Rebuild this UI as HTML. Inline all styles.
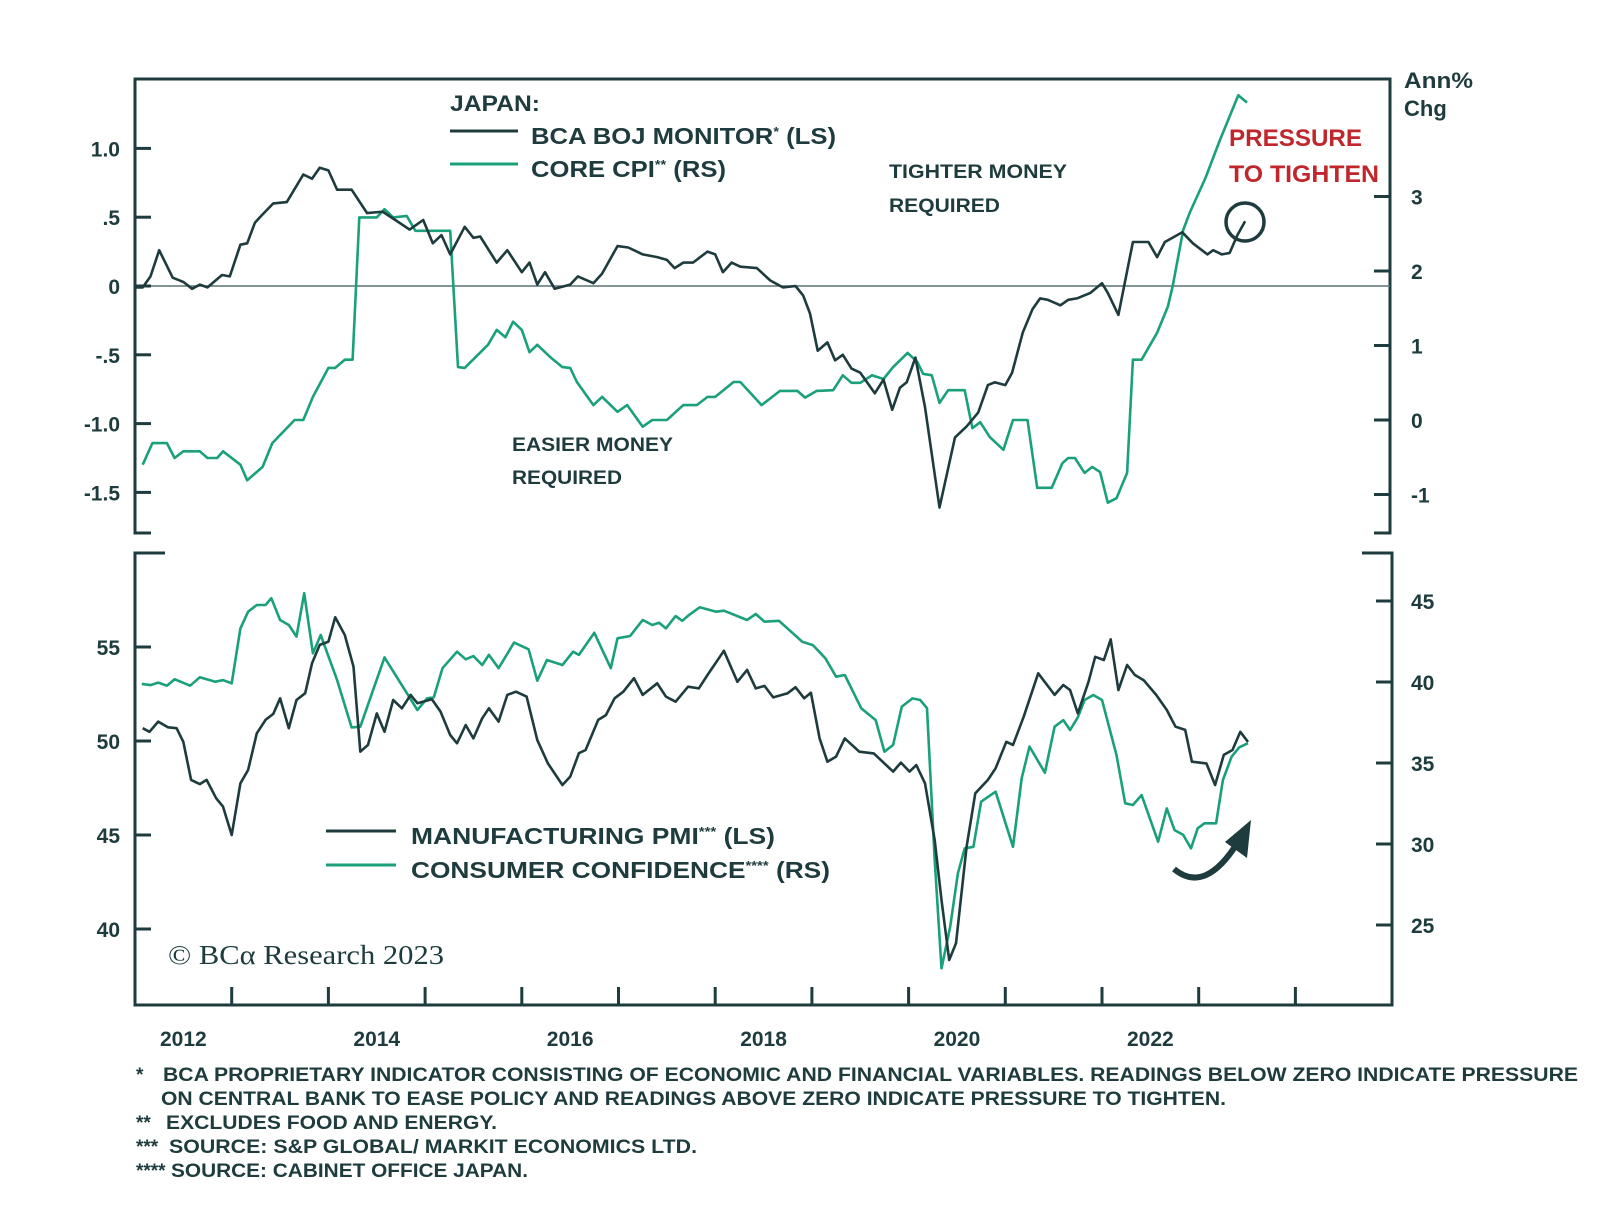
<!DOCTYPE html>
<html><head><meta charset="utf-8"><style>
html,body{margin:0;padding:0;background:#fff;}
svg{display:block;font-family:"Liberation Sans",sans-serif;}
.t{fill:#1e3b3d;font-weight:bold;}
</style></head><body>
<svg id="chart" width="1600" height="1223" viewBox="0 0 1600 1223" xmlns="http://www.w3.org/2000/svg">
<g id="frames" stroke="#1e3b3d" stroke-width="3" fill="none">
  <path d="M151,533 H135 V79 H1390 V533 H1374"/>
  <path d="M165,553 H135 V1005 H1392 V553 H1362"/>
</g>
<line x1="135" x2="1390" y1="286" y2="286" stroke="#5b7274" stroke-width="1.6"/>
<g id="ticks"></g>
<g id="series"></g>
<g>
  <text class="t" x="450" y="111" font-size="22" textLength="90" lengthAdjust="spacingAndGlyphs">JAPAN:</text>
  <line x1="450" x2="518" y1="131" y2="131" stroke="#1e3b3d" stroke-width="3"/>
  <text class="t" x="531" y="144" font-size="23" textLength="305" lengthAdjust="spacingAndGlyphs">BCA BOJ MONITOR<tspan font-size="13" dy="-8">*</tspan><tspan dy="8"> (LS)</tspan></text>
  <line x1="450" x2="518" y1="164" y2="164" stroke="#1aa07a" stroke-width="3"/>
  <text class="t" x="531" y="177" font-size="23" textLength="195" lengthAdjust="spacingAndGlyphs">CORE CPI<tspan font-size="13" dy="-8">**</tspan><tspan dy="8"> (RS)</tspan></text>
</g>
<text class="t" x="889" y="178" font-size="19" textLength="178" lengthAdjust="spacingAndGlyphs">TIGHTER MONEY</text>
<text class="t" x="889" y="212" font-size="19" textLength="111" lengthAdjust="spacingAndGlyphs">REQUIRED</text>
<text class="t" x="512" y="451" font-size="19" textLength="161" lengthAdjust="spacingAndGlyphs">EASIER MONEY</text>
<text class="t" x="512" y="484" font-size="19" textLength="110" lengthAdjust="spacingAndGlyphs">REQUIRED</text>
<text x="1229" y="146" font-size="24" font-weight="bold" fill="#c0272d" textLength="133" lengthAdjust="spacingAndGlyphs">PRESSURE</text>
<text x="1229" y="182" font-size="24" font-weight="bold" fill="#c0272d" textLength="150" lengthAdjust="spacingAndGlyphs">TO TIGHTEN</text>
<text class="t" x="1404" y="88" font-size="22" textLength="69" lengthAdjust="spacingAndGlyphs">Ann%</text>
<text class="t" x="1404" y="116" font-size="22">Chg</text>
<circle cx="1245" cy="222" r="19" fill="none" stroke="#1e3b3d" stroke-width="3.5"/>
<g>
  <line x1="326" x2="396" y1="831" y2="831" stroke="#1e3b3d" stroke-width="3"/>
  <text class="t" x="411" y="844" font-size="23" textLength="364" lengthAdjust="spacingAndGlyphs">MANUFACTURING PMI<tspan font-size="13" dy="-8">***</tspan><tspan dy="8"> (LS)</tspan></text>
  <line x1="326" x2="396" y1="865" y2="865" stroke="#1aa07a" stroke-width="3"/>
  <text class="t" x="411" y="878" font-size="23" textLength="419" lengthAdjust="spacingAndGlyphs">CONSUMER CONFIDENCE<tspan font-size="13" dy="-8">****</tspan><tspan dy="8"> (RS)</tspan></text>
</g>
<text x="168" y="964" font-size="27" fill="#1e3b3d" font-family="Liberation Serif, serif" textLength="276" lengthAdjust="spacingAndGlyphs">© BCα Research 2023</text>
<g>
  <path d="M1174,869 Q1205,895 1238,842" fill="none" stroke="#1e3b3d" stroke-width="6"/>
  <polygon points="1251,820 1247,858 1225,842" fill="#1e3b3d"/>
</g>
<g class="t" font-size="19">
  <text x="136" y="1081">*</text>
  <text x="163" y="1081" textLength="1415" lengthAdjust="spacingAndGlyphs">BCA PROPRIETARY INDICATOR CONSISTING OF ECONOMIC AND FINANCIAL VARIABLES. READINGS BELOW ZERO INDICATE PRESSURE</text>
  <text x="161" y="1105" textLength="1065" lengthAdjust="spacingAndGlyphs">ON CENTRAL BANK TO EASE POLICY AND READINGS ABOVE ZERO INDICATE PRESSURE TO TIGHTEN.</text>
  <text x="136" y="1129">**</text>
  <text x="166" y="1129" textLength="331" lengthAdjust="spacingAndGlyphs">EXCLUDES FOOD AND ENERGY.</text>
  <text x="136" y="1153">***</text>
  <text x="169" y="1153" textLength="528" lengthAdjust="spacingAndGlyphs">SOURCE: S&amp;P GLOBAL/ MARKIT ECONOMICS LTD.</text>
  <text x="136" y="1177">****</text>
  <text x="171" y="1177" textLength="357" lengthAdjust="spacingAndGlyphs">SOURCE: CABINET OFFICE JAPAN.</text>
</g>
</svg>
<script>
const NS="http://www.w3.org/2000/svg";
const bojT=[2012.0,2012.08,2012.16,2012.25,2012.39,2012.5,2012.59,2012.67,2012.75,2012.9,2012.98,2013.09,2013.16,2013.24,2013.32,2013.43,2013.57,2013.74,2013.83,2013.91,2014.0,2014.09,2014.24,2014.4,2014.56,2014.67,2014.84,2014.98,2015.08,2015.17,2015.26,2015.41,2015.5,2015.57,2015.74,2015.85,2016.0,2016.08,2016.16,2016.24,2016.34,2016.5,2016.58,2016.74,2016.83,2016.99,2017.1,2017.25,2017.4,2017.5,2017.58,2017.67,2017.77,2017.92,2018.0,2018.08,2018.17,2018.26,2018.43,2018.57,2018.7,2018.83,2018.91,2018.98,2019.06,2019.16,2019.24,2019.32,2019.41,2019.5,2019.65,2019.74,2019.83,2019.91,2019.98,2020.07,2020.17,2020.32,2020.48,2020.6,2020.72,2020.82,2020.89,2021.0,2021.07,2021.18,2021.28,2021.36,2021.44,2021.57,2021.65,2021.74,2021.88,2022.0,2022.06,2022.17,2022.32,2022.48,2022.57,2022.65,2022.83,2022.94,2023.09,2023.15,2023.24,2023.32,2023.4,2023.48];
const bojV=[-0.01,-0.01,0.07,0.26,0.06,0.03,-0.02,0.01,-0.01,0.08,0.07,0.30,0.31,0.46,0.52,0.60,0.61,0.81,0.78,0.86,0.84,0.70,0.70,0.53,0.54,0.49,0.41,0.48,0.31,0.37,0.23,0.43,0.35,0.36,0.17,0.26,0.10,0.17,0.01,0.10,-0.02,0.01,0.07,0.02,0.09,0.29,0.28,0.23,0.21,0.19,0.13,0.17,0.17,0.25,0.23,0.10,0.17,0.14,0.13,0.04,-0.01,0.00,-0.07,-0.20,-0.47,-0.41,-0.54,-0.50,-0.60,-0.63,-0.78,-0.68,-0.90,-0.74,-0.70,-0.52,-0.88,-1.61,-1.10,-1.02,-0.92,-0.72,-0.70,-0.72,-0.63,-0.34,-0.17,-0.09,-0.10,-0.14,-0.10,-0.09,-0.05,0.02,-0.05,-0.21,0.32,0.32,0.21,0.32,0.39,0.31,0.23,0.26,0.23,0.24,0.37,0.47];
const cpiT=[2012.08,2012.18,2012.33,2012.41,2012.5,2012.67,2012.75,2012.85,2012.91,2013.09,2013.16,2013.32,2013.42,2013.65,2013.74,2013.84,2014.0,2014.07,2014.17,2014.25,2014.32,2014.5,2014.58,2014.67,2014.81,2014.9,2015.26,2015.34,2015.41,2015.65,2015.74,2015.83,2015.91,2016.0,2016.08,2016.16,2016.29,2016.42,2016.5,2016.57,2016.74,2016.83,2016.99,2017.09,2017.25,2017.35,2017.5,2017.67,2017.81,2017.92,2018.0,2018.19,2018.26,2018.48,2018.67,2018.85,2018.93,2019.05,2019.22,2019.32,2019.41,2019.5,2019.62,2019.74,2019.84,2019.99,2020.09,2020.15,2020.24,2020.32,2020.41,2020.58,2020.66,2020.74,2020.84,2020.98,2021.08,2021.23,2021.33,2021.48,2021.59,2021.65,2021.72,2021.82,2021.9,2021.98,2022.06,2022.15,2022.26,2022.32,2022.41,2022.57,2022.68,2022.73,2022.84,2022.91,2023.07,2023.22,2023.41,2023.5];
const cpiV=[-0.60,-0.31,-0.31,-0.51,-0.42,-0.42,-0.51,-0.51,-0.42,-0.60,-0.81,-0.63,-0.31,0.00,0.00,0.31,0.70,0.70,0.81,0.81,2.72,2.72,2.83,2.72,2.74,2.54,2.54,0.71,0.70,1.01,1.21,1.11,1.32,1.21,0.91,1.01,0.85,0.71,0.70,0.51,0.20,0.31,0.11,0.20,-0.09,0.00,0.00,0.20,0.20,0.31,0.31,0.51,0.51,0.20,0.39,0.39,0.30,0.39,0.40,0.60,0.50,0.50,0.60,0.55,0.71,0.90,0.78,0.62,0.60,0.23,0.40,0.40,-0.11,-0.03,-0.23,-0.40,0.00,0.00,-0.91,-0.91,-0.58,-0.51,-0.51,-0.71,-0.63,-0.70,-1.11,-1.05,-0.71,0.81,0.81,1.17,1.52,1.79,2.55,2.79,3.25,3.76,4.36,4.26];
const pmiT=[2012.08,2012.15,2012.24,2012.34,2012.43,2012.5,2012.58,2012.67,2012.74,2012.84,2012.91,2013.0,2013.09,2013.17,2013.26,2013.35,2013.43,2013.5,2013.59,2013.67,2013.76,2013.83,2013.91,2014.0,2014.07,2014.17,2014.26,2014.33,2014.41,2014.5,2014.58,2014.67,2014.76,2014.85,2014.92,2015.07,2015.16,2015.26,2015.33,2015.42,2015.5,2015.59,2015.66,2015.76,2015.85,2015.94,2016.05,2016.16,2016.27,2016.42,2016.5,2016.59,2016.66,2016.79,2016.87,2016.96,2017.05,2017.16,2017.25,2017.4,2017.49,2017.59,2017.72,2017.83,2017.92,2018.09,2018.23,2018.33,2018.42,2018.51,2018.6,2018.75,2018.83,2018.92,2018.99,2019.08,2019.16,2019.25,2019.34,2019.49,2019.64,2019.84,2019.92,2020.01,2020.08,2020.17,2020.27,2020.34,2020.42,2020.49,2020.6,2020.69,2020.82,2020.9,2021.01,2021.08,2021.19,2021.34,2021.51,2021.6,2021.67,2021.75,2021.86,2021.93,2022.02,2022.09,2022.17,2022.26,2022.34,2022.43,2022.56,2022.67,2022.76,2022.86,2022.93,2023.08,2023.17,2023.26,2023.35,2023.43,2023.51];
const pmiV=[50.68,50.49,51.03,50.73,50.68,49.96,47.93,47.71,47.93,46.95,46.51,45.0,47.75,48.46,50.41,51.12,51.44,52.27,50.68,52.18,52.54,54.13,55.11,55.28,56.58,55.64,53.95,49.43,49.79,51.47,50.49,52.18,51.74,52.45,52.01,52.22,51.56,50.32,49.88,50.85,50.14,51.21,51.74,51.03,52.45,52.62,52.36,50.05,48.81,47.66,48.10,49.35,49.52,51.12,51.38,52.27,52.62,53.34,52.45,53.07,52.36,52.09,52.89,52.80,53.51,54.80,53.15,53.78,52.80,52.93,52.32,52.54,52.86,52.27,52.57,50.14,48.90,49.17,50.14,49.43,49.34,48.37,48.85,48.37,48.72,47.75,44.73,41.54,38.35,39.24,44.38,47.22,47.93,48.55,49.96,49.79,51.29,53.60,52.45,52.98,52.71,51.47,53.15,54.48,54.31,55.41,52.71,54.04,53.51,53.24,52.45,51.65,50.76,50.59,48.90,48.81,47.66,49.26,49.52,50.49,49.95];
const confT=[2012.07,2012.16,2012.24,2012.33,2012.41,2012.57,2012.67,2012.83,2012.91,2013.0,2013.09,2013.17,2013.26,2013.35,2013.41,2013.5,2013.59,2013.67,2013.75,2013.84,2013.92,2014.09,2014.24,2014.33,2014.58,2014.92,2015.02,2015.09,2015.18,2015.33,2015.42,2015.5,2015.59,2015.66,2015.76,2015.92,2016.07,2016.16,2016.26,2016.42,2016.53,2016.59,2016.75,2016.92,2016.99,2017.12,2017.25,2017.35,2017.42,2017.49,2017.59,2017.66,2017.73,2017.84,2018.01,2018.09,2018.33,2018.42,2018.51,2018.66,2018.9,2019.01,2019.14,2019.25,2019.34,2019.51,2019.66,2019.75,2019.84,2019.93,2020.04,2020.12,2020.19,2020.27,2020.34,2020.43,2020.51,2020.58,2020.67,2020.75,2020.9,2021.08,2021.17,2021.25,2021.41,2021.51,2021.6,2021.67,2021.75,2021.82,2021.91,2022.0,2022.15,2022.24,2022.32,2022.41,2022.58,2022.67,2022.75,2022.84,2022.92,2022.99,2023.06,2023.18,2023.25,2023.34,2023.42,2023.51];
const confV=[39.88,39.81,39.96,39.77,40.17,39.77,40.29,40.02,40.12,39.92,43.31,44.34,44.75,44.75,45.17,43.83,43.52,42.80,45.48,41.77,42.90,40.12,37.20,37.24,41.52,38.27,38.99,39.06,40.85,41.87,41.40,41.60,41.05,41.67,40.85,42.43,42.02,40.08,41.36,41.05,41.87,41.67,43.04,40.85,42.70,42.84,43.83,43.52,43.66,43.31,44.07,43.78,44.14,44.61,44.34,44.40,43.83,44.20,43.72,43.78,42.49,42.28,41.46,40.33,40.43,38.38,37.65,35.70,36.11,38.48,38.99,38.89,38.38,29.01,22.33,24.90,28.19,29.73,29.83,32.61,33.23,29.83,34.06,36.01,34.40,37.24,37.65,37.04,37.82,38.89,39.20,38.89,35.49,32.51,32.41,33.02,30.14,32.20,30.86,30.56,29.73,30.97,31.28,31.28,33.95,35.39,35.97,36.22];
const topLeftTicks=[1.0,0.5,0,-0.5,-1.0,-1.5];
const topLeftLabels=["1.0",".5","0","-.5","-1.0","-1.5"];
const topRightTicks=[3,2,1,0,-1];
const botLeftTicks=[55,50,45,40];
const botRightTicks=[45,40,35,30,25];
const yearTicks=[2013,2014,2015,2016,2017,2018,2019,2020,2021,2022,2023,2024];
const yearLabels=[2012,2014,2016,2018,2020,2022];

const xS=t=>135+(t-2012)*96.7;
const tL=v=>286-v*137.6;
const tR=v=>420-v*74.5;
const bL=v=>741-(v-50)*18.8;
const bR=v=>763-(v-35)*16.2;

const ticks=document.getElementById('ticks');
function mk(tag,attrs,parent){const e=document.createElementNS(NS,tag);for(const k in attrs)e.setAttribute(k,attrs[k]);parent.appendChild(e);return e;}
function tick(x1,x2,y1,y2){const l=mk('line',{x1:x1,x2:x2,y1:y1,y2:y2,stroke:'#1e3b3d','stroke-width':3},ticks);

}
function label(txt,x,y,anchor){const e=mk('text',{x:x,y:y,'text-anchor':anchor,'font-size':21,'class':'t'},ticks);e.textContent=txt;

}
topLeftTicks.forEach((v,i)=>{tick(135,151,tL(v),tL(v));label(topLeftLabels[i],120,tL(v)+8,'end');});
topRightTicks.forEach(v=>{tick(1374,1390,tR(v),tR(v));label(String(v),1411,tR(v)+8,'start');});
botLeftTicks.forEach(v=>{tick(135,151,bL(v),bL(v));label(String(v),120,bL(v)+8,'end');});
botRightTicks.forEach(v=>{tick(1376,1392,bR(v),bR(v));label(String(v),1411,bR(v)+8,'start');});
yearTicks.forEach(y=>tick(xS(y),xS(y),1005,987));
yearLabels.forEach(y=>label(String(y),xS(y+0.5),1046,'middle'));

const ser=document.getElementById('series');
function line(T,V,fy,color,name){
  const d=T.map((t,i)=>(i?'L':'M')+xS(t).toFixed(1)+','+fy(V[i]).toFixed(1)).join(' ');
  const p=mk('path',{d:d,fill:'none',stroke:color,'stroke-width':2.6,'stroke-linejoin':'round'},ser);
  
  
}
line(cpiT,cpiV,tR,'#1aa07a','core-cpi-line');
line(bojT,bojV,tL,'#1e3b3d','boj-monitor-line');
line(confT,confV,bR,'#1aa07a','consumer-confidence-line');
line(pmiT,pmiV,bL,'#1e3b3d','manufacturing-pmi-line');
</script>
</body></html>
